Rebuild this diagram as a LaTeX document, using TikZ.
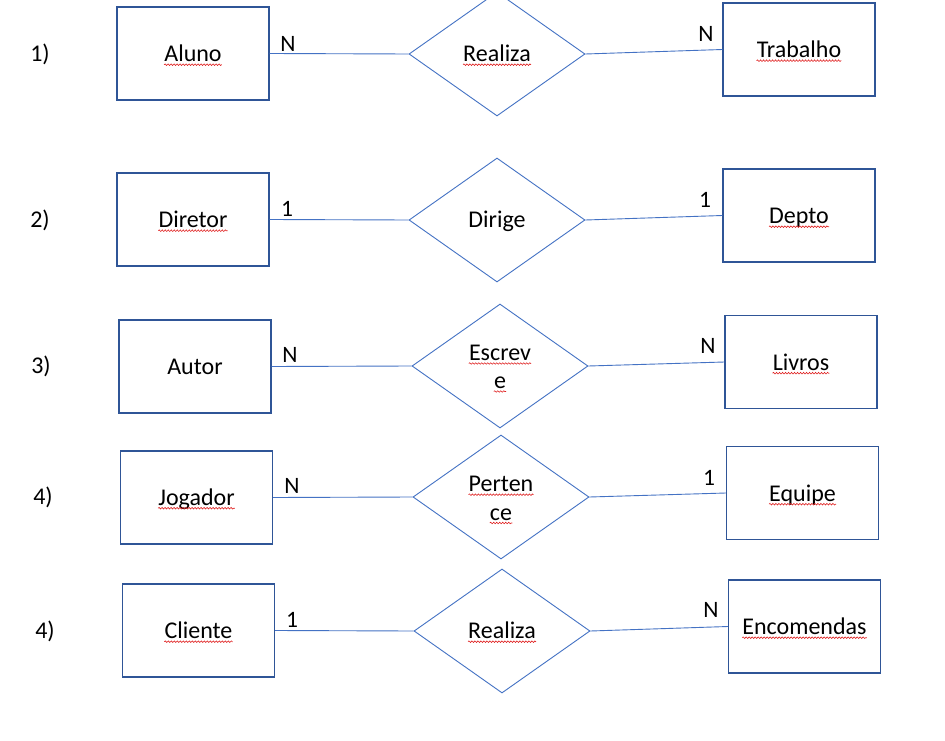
\documentclass[tikz,border=0pt]{standalone}
\usepackage{fontspec}
\setmainfont{Carlito}
\usetikzlibrary{shapes.geometric,decorations.pathmorphing}
\definecolor{boxblue}{HTML}{2F5597}
\definecolor{lineblue}{HTML}{4472C4}
\definecolor{squigred}{HTML}{E02020}
\tikzset{
  entity/.style={draw=boxblue,line width=1.1pt,minimum width=152pt,minimum height=93pt,inner sep=0pt},
  relation/.style={draw=lineblue,line width=0.9pt,shape=diamond,minimum width=176pt,minimum height=124pt,inner sep=0pt,aspect=1.4},
  link/.style={draw=lineblue,line width=0.9pt},
  txt/.style={inner sep=0pt,anchor=base,font=\fontsize{24}{28}\selectfont},
  card/.style={inner sep=0pt,font=\fontsize{23.5}{27}\selectfont},
  squig/.style={draw=squigred,line width=0.6pt,decorate,decoration={snake,segment length=3pt,amplitude=0.8pt}}
}
\newcommand{\sq}[1]{\draw[squig] ([yshift=-3pt]#1.base west) -- ([yshift=-3pt]#1.base east);}
\begin{document}
\begin{tikzpicture}[x=1pt,y=-1pt]
\useasboundingbox[fill=white] (0,0) rectangle (945,741);
% row labels
\node[txt] (r1) at (40,61.7) {1)};
\node[txt] (r2) at (40,227.7) {2)};
\node[txt] (r3) at (41,373.7) {3)};
\node[txt] (r4) at (43,504.7) {4)};
\node[txt] (r5) at (45,638.7) {4)};
% row 1
\node[entity] (e1a) at (193,53.5) {};
\node[relation] (d1) at (497,54) {};
\node[entity] (e1b) at (799,49.5) {};
\draw[link] (e1a.east) -- (d1.west);
\draw[link] (d1.east) -- (e1b.west);
\node[txt] (t1a) at (193,61.7) {Aluno}; \sq{t1a}
\node[txt] (t1d) at (497,61.7) {Realiza}; \sq{t1d}
\node[txt] (t1b) at (799,57.7) {Trabalho}; \sq{t1b}
\node[card] (c1a) at (288,44) {N};
\node[card] (c1b) at (706,34) {N};
% row 2
\node[entity] (e2a) at (193,219.5) {};
\node[relation] (d2) at (497,220) {};
\node[entity] (e2b) at (799,215.5) {};
\draw[link] (e2a.east) -- (d2.west);
\draw[link] (d2.east) -- (e2b.west);
\node[txt] (t2a) at (193,227.7) {Diretor}; \sq{t2a}
\node[txt] (t2d) at (497,227.7) {Dirige};
\node[txt] (t2b) at (799,223.7) {Depto}; \sq{t2b}
\node[card] (c2a) at (287,209) {1};
\node[card] (c2b) at (705,200) {1};
% row 3
\node[entity] (e3a) at (195,366.5) {};
\node[relation] (d3) at (500,366) {};
\node[entity] (e3b) at (801,362) {};
\draw[link] (e3a.east) -- (d3.west);
\draw[link] (d3.east) -- (e3b.west);
\node[txt] (t3a) at (195,374.2) {Autor};
\node[txt] (t3d) at (500,360.5) {Escrev}; \sq{t3d}
\node[txt] (t3e) at ([yshift=-28pt]t3d.base) {e}; \sq{t3e}
\node[txt] (t3b) at (801,370.2) {Livros}; \sq{t3b}
\node[card] (c3a) at (290,355) {N};
\node[card] (c3b) at (708,346) {N};
% row 4
\node[entity] (e4a) at (196.5,497.5) {};
\node[relation] (d4) at (501,497) {};
\node[entity] (e4b) at (802.5,493) {};
\draw[link] (e4a.east) -- (d4.west);
\draw[link] (d4.east) -- (e4b.west);
\node[txt] (t4a) at (196.5,505.2) {Jogador}; \sq{t4a}
\node[txt] (t4d) at (501,491.7) {Perten}; \sq{t4d}
\node[txt] (t4e) at ([yshift=-28.3pt]t4d.base) {ce}; \sq{t4e}
\node[txt] (t4b) at (802.5,501.2) {Equipe}; \sq{t4b}
\node[card] (c4a) at (292,486) {N};
\node[card] (c4b) at (709,478) {1};
% row 5
\node[entity] (e5a) at (198.5,630.5) {};
\node[relation] (d5) at (502,631) {};
\node[entity] (e5b) at (804.5,626.5) {};
\draw[link] (e5a.east) -- (d5.west);
\draw[link] (d5.east) -- (e5b.west);
\node[txt] (t5a) at (198.5,638.7) {Cliente}; \sq{t5a}
\node[txt] (t5d) at (502,638.7) {Realiza}; \sq{t5d}
\node[txt] (t5b) at (804.5,634.7) {Encomendas}; \sq{t5b}
\node[card] (c5a) at (292,620) {1};
\node[card] (c5b) at (711,610) {N};
\end{tikzpicture}
\end{document}
